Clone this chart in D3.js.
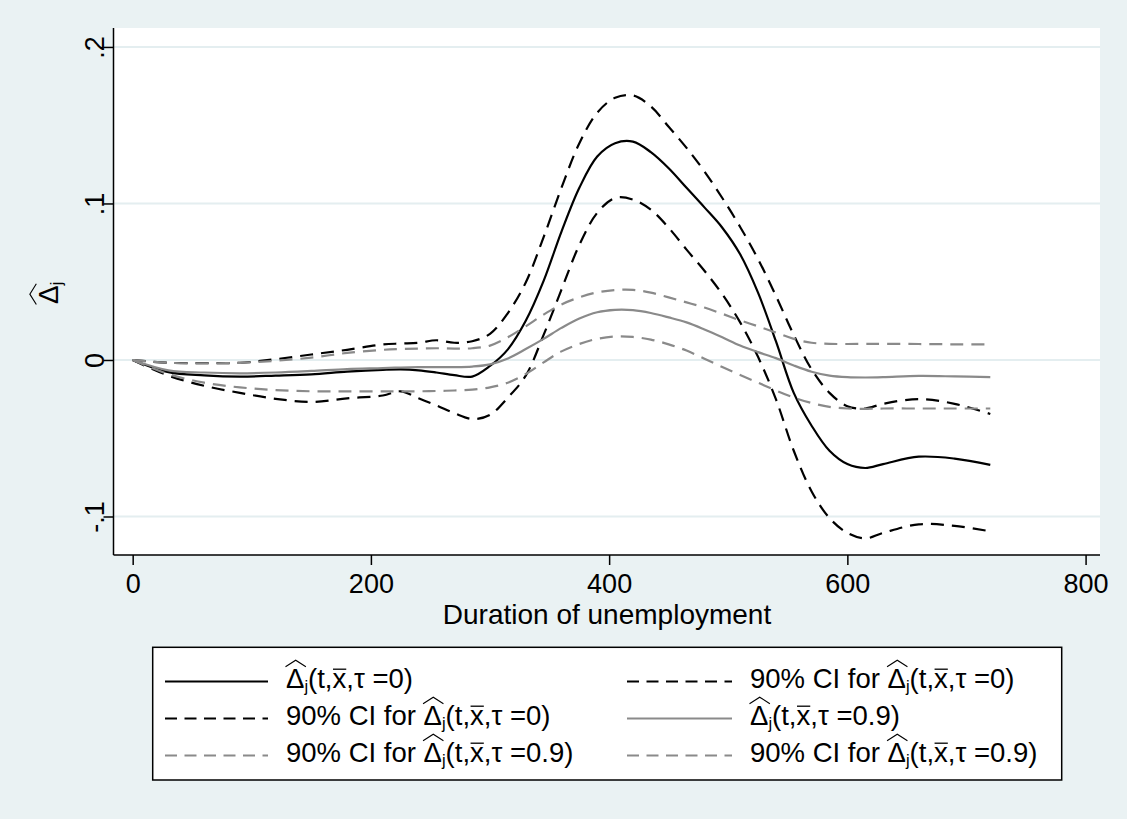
<!DOCTYPE html>
<html>
<head>
<meta charset="utf-8">
<script src="https://cdn.jsdelivr.net/npm/d3@7"></script>
<style>
  body { margin: 0; background: #EAF2F3; }
  svg { display: block; }
  text { font-family: "Liberation Sans", Arial, Helvetica, sans-serif; fill: #000; }
</style>
</head>
<body>
<svg id="chart" width="1127" height="819"></svg>
<script>
// Duration of unemployment (days) at which the effects are evaluated
const days = [0, 30, 60, 90, 120, 150, 180, 210, 225, 240, 255, 270, 285, 300,
  315, 330, 345, 360, 375, 390, 405, 420, 435, 450, 465, 480, 495, 510, 525,
  540, 555, 570, 585, 600, 615, 630, 660, 690, 720];

// tau = 0: estimate and 90% confidence band
const est0 = [0, -0.0078, -0.0098, -0.0106, -0.0100, -0.0092, -0.0075, -0.0063, -0.0060, -0.0066,
  -0.0080, -0.0097, -0.0106, -0.0038, 0.0068, 0.0250, 0.0505, 0.0820, 0.1100, 0.1300,
  0.1385, 0.1395, 0.1328, 0.1225, 0.1100, 0.0975, 0.0845, 0.0675, 0.0430, 0.0120,
  -0.0210, -0.0420, -0.0580, -0.0665, -0.0690, -0.0665, -0.0618, -0.0630, -0.0670];
const ub0 = [0, -0.0018, -0.0020, -0.0018, 0.0005, 0.0035, 0.0065, 0.0099, 0.0105, 0.0110,
  0.0126, 0.0110, 0.0120, 0.0167, 0.0300, 0.0495, 0.0785, 0.1100, 0.1385, 0.1580,
  0.1675, 0.1690, 0.1620, 0.1490, 0.1355, 0.1205, 0.1035, 0.0850, 0.0645, 0.0410,
  0.0160, -0.0060, -0.0210, -0.0295, -0.0310, -0.0280, -0.0250, -0.0280, -0.0345];
const lb0 = [0, -0.0100, -0.0165, -0.0210, -0.0248, -0.0268, -0.0245, -0.0227, -0.0200, -0.0245,
  -0.0290, -0.0340, -0.0377, -0.0350, -0.0240, -0.0100, 0.0160, 0.0450, 0.0735, 0.0940,
  0.1035, 0.1025, 0.0960, 0.0845, 0.0705, 0.0570, 0.0420, 0.0240, 0.0020, -0.0250,
  -0.0580, -0.0840, -0.1010, -0.1105, -0.1140, -0.1105, -0.1050, -0.1060, -0.1095];

// tau = 0.9: estimate and 90% confidence band
const est9 = [0, -0.0066, -0.0080, -0.0085, -0.0080, -0.0070, -0.0058, -0.0052, -0.0048, -0.0046,
  -0.0046, -0.0046, -0.0042, -0.0028, 0.0010, 0.0070, 0.0135, 0.0205, 0.0265, 0.0305,
  0.0320, 0.0318, 0.0300, 0.0272, 0.0240, 0.0195, 0.0145, 0.0092, 0.0050, 0.0012,
  -0.0035, -0.0075, -0.0100, -0.0110, -0.0112, -0.0110, -0.0102, -0.0105, -0.0110];
const ub9 = [0, -0.0018, -0.0021, -0.0018, -0.0005, 0.0015, 0.0045, 0.0065, 0.0070, 0.0073,
  0.0075, 0.0073, 0.0075, 0.0092, 0.0145, 0.0215, 0.0290, 0.0355, 0.0400, 0.0432,
  0.0447, 0.0448, 0.0430, 0.0400, 0.0368, 0.0335, 0.0295, 0.0253, 0.0215, 0.0175,
  0.0135, 0.0110, 0.0103, 0.0102, 0.0103, 0.0103, 0.0102, 0.0100, 0.0099];
const lb9 = [0, -0.0090, -0.0145, -0.0175, -0.0192, -0.0200, -0.0200, -0.0200, -0.0200, -0.0200,
  -0.0198, -0.0195, -0.0190, -0.0175, -0.0145, -0.0090, -0.0015, 0.0055, 0.0102, 0.0135,
  0.0150, 0.0147, 0.0130, 0.0100, 0.0060, 0.0008, -0.0045, -0.0096, -0.0145, -0.0195,
  -0.0240, -0.0275, -0.0300, -0.0310, -0.0312, -0.0310, -0.0310, -0.0310, -0.0310];

const xTicks = [0, 200, 400, 600, 800];
const yTicks = [-0.1, 0, 0.1, 0.2];
const yTickLabels = ["-.1", "0", ".1", ".2"];
const xTitle = "Duration of unemployment";
const legendPrefixes = ["", "90% CI for ", "90% CI for ", "", "90% CI for ", "90% CI for "];
const legendTaus = ["0", "0", "0", "0.9", "0.9", "0.9"];

// ---------------------------------------------------------------------------
const BLACK = "#000000", GREY = "#8a8a8a";
const series = [
  { values: est0, color: BLACK, dash: null },
  { values: ub0,  color: BLACK, dash: "13,8" },
  { values: lb0,  color: BLACK, dash: "13,8" },
  { values: est9, color: GREY,  dash: null },
  { values: ub9,  color: GREY,  dash: "13,8" },
  { values: lb9,  color: GREY,  dash: "13,8" }
];

const svg = d3.select("#chart");
const W = 1127, H = 819;
const plot = { left: 113.5, right: 1100, top: 28, bottom: 555 };
const FS = 27;
const LEGEND_FS = 27.5;

svg.append("rect").attr("width", W).attr("height", H).attr("fill", "#EAF2F3");
svg.append("rect")
  .attr("x", plot.left).attr("y", plot.top)
  .attr("width", plot.right - plot.left).attr("height", plot.bottom - plot.top)
  .attr("fill", "#ffffff");

const x = d3.scaleLinear().domain([-16.1, 812.1]).range([plot.left, plot.right]);
const y = d3.scaleLinear().domain([-0.1246, 0.2121]).range([plot.bottom, plot.top]);

// horizontal grid lines
svg.append("g").selectAll("line").data(yTicks).join("line")
  .attr("x1", plot.left).attr("x2", plot.right)
  .attr("y1", d => y(d)).attr("y2", d => y(d))
  .attr("stroke", "#E4EEF0").attr("stroke-width", 2);

// y axis
const yAxis = svg.append("g")
  .attr("transform", `translate(${plot.left},0)`)
  .call(d3.axisLeft(y).tickValues(yTicks).tickSize(10).tickPadding(0)
    .tickFormat((d, i) => yTickLabels[i]));
yAxis.select(".domain").attr("d", `M0,${plot.top}V${plot.bottom}`).attr("stroke-width", 1.5);
yAxis.selectAll(".tick line").attr("stroke-width", 1.5);
yAxis.selectAll(".tick text")
  .attr("font-size", FS)
  .attr("x", null).attr("dy", null)
  .attr("text-anchor", "middle")
  .attr("transform", "translate(-10,0) rotate(-90)");

// x axis
const xAxis = svg.append("g")
  .attr("transform", `translate(0,${plot.bottom})`)
  .call(d3.axisBottom(x).tickValues(xTicks).tickSize(10).tickPadding(0).tickFormat(d3.format("d")));
xAxis.select(".domain").attr("d", `M${plot.left},0H${plot.right}`).attr("stroke-width", 1.5);
xAxis.selectAll(".tick line").attr("stroke-width", 1.5);
xAxis.selectAll(".tick text").attr("font-size", FS).attr("dy", null).attr("y", 38);

svg.append("text")
  .attr("x", 607).attr("y", 624)
  .attr("text-anchor", "middle").attr("font-size", 28)
  .text(xTitle);

// curves
const line = d3.line()
  .x((d, i) => x(days[i]))
  .y(d => y(d))
  .curve(d3.curveCatmullRom.alpha(0.5));

svg.append("g").selectAll("path").data(series).join("path")
  .attr("d", s => line(s.values))
  .attr("fill", "none")
  .attr("stroke", s => s.color)
  .attr("stroke-width", 2.2)
  .attr("stroke-dasharray", s => s.dash)
  .attr("stroke-linejoin", "round");

// wide hat over the glyph whose extent is d
function hat(g, d, capTop) {
  g.append("path")
    .attr("d", `M${d.x - 0.5},${capTop - 1.5}L${d.x + d.width / 2 + 0.5},${capTop - 8}L${d.x + d.width + 1.5},${capTop - 1.5}`)
    .attr("fill", "none").attr("stroke", "#000").attr("stroke-width", 1.1);
}

// Δ̂_j(t, x̄, τ = …) label: text plus a wide hat over Δ and a bar over x
function mathLabel(g, x0, baseline, prefix, tau, fs) {
  const t = g.append("text").attr("x", x0).attr("y", baseline).attr("font-size", fs);
  if (prefix) t.append("tspan").text(prefix);
  t.append("tspan").text("Δ");
  t.append("tspan").attr("font-size", fs * 0.6).attr("dy", fs * 0.16).text("j");
  t.append("tspan").attr("dy", -fs * 0.16).text("(t,");
  t.append("tspan").text("x");
  t.append("tspan").text(",τ =" + tau + ")");
  const node = t.node();
  const p = prefix.length;
  hat(g, node.getExtentOfChar(p), baseline - fs * 0.72);
  const xc = node.getExtentOfChar(p + 5);
  const xTop = baseline - fs * 0.52;
  g.append("line")
    .attr("x1", xc.x + 0.5).attr("x2", xc.x + xc.width)
    .attr("y1", xTop - 4.5).attr("y2", xTop - 4.5)
    .attr("stroke", "#000").attr("stroke-width", 1.3);
  return t;
}

// y-axis title: rotated Δ̂_j
const yt = svg.append("g").attr("transform", "translate(58,304) rotate(-90)");
{
  const fs = 28;
  const t = yt.append("text").attr("x", 0).attr("y", 0).attr("font-size", fs);
  t.append("tspan").text("Δ");
  t.append("tspan").attr("font-size", fs * 0.6).attr("dy", fs * 0.16).text("j");
  hat(yt, t.node().getExtentOfChar(0), -fs * 0.72);
}

// legend
const leg = svg.append("g");
leg.append("rect")
  .attr("x", 152.7).attr("y", 647.3).attr("width", 909).attr("height", 132.7)
  .attr("fill", "#ffffff").attr("stroke", "#000").attr("stroke-width", 1.5);

const rowY = [681.5, 718.5, 755.5];
const cols = [
  { k1: 165, k2: 268, tx: 286 },
  { k1: 627, k2: 732, tx: 750 }
];
series.forEach((s, i) => {
  const row = Math.floor(i / 2), col = cols[i % 2];
  const ly = rowY[row];
  leg.append("line")
    .attr("x1", col.k1).attr("x2", col.k2).attr("y1", ly).attr("y2", ly)
    .attr("stroke", s.color).attr("stroke-width", 2.2)
    .attr("stroke-dasharray", s.dash ? "12,7.5" : null);
  mathLabel(leg, col.tx, ly + 6.5, legendPrefixes[i], legendTaus[i], LEGEND_FS);
});
</script>
</body>
</html>
